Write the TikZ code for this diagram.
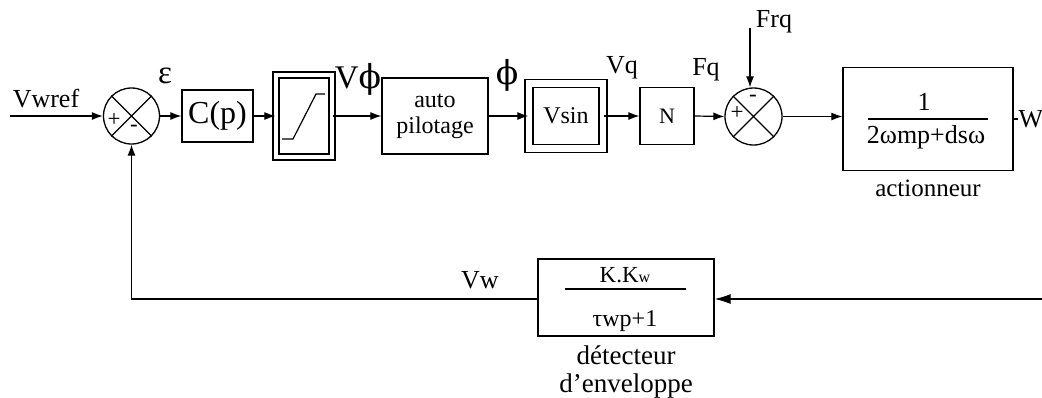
\documentclass[tikz,border=0pt]{standalone}
\usepackage{fontspec}
\setmainfont{Liberation Serif}
\newfontfamily\grk{DejaVu Serif}
\usetikzlibrary{arrows.meta,positioning,calc}

\begin{document}
\begin{tikzpicture}[
  x=1pt, y=-1pt,
  line width=1.2pt,
  box/.style    = {draw, line width=1.3pt, inner sep=0pt, align=center,
                   font=\fontsize{24}{26}\selectfont},
  dbox/.style   = {box, double, double distance=4.5pt},
  sum/.style    = {draw, circle, line width=1.3pt, minimum size=56pt,
                   inner sep=0pt},
  lbl/.style    = {inner sep=0pt, align=center,
                   font=\fontsize{26}{28}\selectfont},
  big/.style    = {inner sep=0pt, font=\fontsize{33}{35}\selectfont},
  sign/.style   = {inner sep=0pt, font=\fontsize{23}{24}\selectfont},
  arrow/.style  = {-{Latex[length=11pt,width=8pt]}},
  bigarrow/.style = {-{Latex[length=16pt,width=10pt]}}
]
  \useasboundingbox (0,0) rectangle (1042,397);

  % Forward path
  \coordinate (in) at (10,116);
  \node[lbl] (vwref) at (46,99) {Vwref};
  \node[sum] (s1) at (131.5,116) {};
  \draw (s1.north west) -- (s1.south east) (s1.north east) -- (s1.south west);
  \node[sign] (s1p) at (114,120) {+};
  \node[sign] (s1m) at (134,128) {-};
  \node[big] (eps) at (165,76) {ε};

  \node[box, minimum width=71pt, minimum height=52pt,
        font=\fontsize{32}{34}\selectfont] (cp) at (217.5,116) {C(p)};
  \node[dbox, minimum width=56pt, minimum height=82pt] (sat) at (304,116) {};
  \draw ($(sat)+(-22,23)$) -- ++(11,0) -- ($(sat)+(12,-22)$) -- ++(9,0);
  \node[big] (vphi) at (358,79) {V{\grk ϕ}};

  \node[box, minimum width=106pt, minimum height=76pt] (auto) at (435,116) {auto\\pilotage};
  \node[big] (phi) at (507,75) {\grk ϕ};
  \node[dbox, minimum width=74pt, minimum height=65pt, double distance=6.5pt] (vsin) at (566,116) {Vsin};
  \node[lbl] (vq) at (622,68) {Vq};
  \node[box, minimum width=54pt, minimum height=57pt,
        font=\fontsize{22}{24}\selectfont] (n) at (667,116) {N};
  \node[lbl] (fq) at (706,70) {Fq};

  \node[sum, minimum size=57pt] (s2) at (753.5,116.5) {};
  \draw (s2.north west) -- (s2.south east) (s2.north east) -- (s2.south west);
  \node[sign] (s2m) at (753,98) {-};
  \node[sign] (s2p) at (737,113) {+};
  \coordinate (frqin) at (750,28);
  \node[lbl] (frq) at (774,22) {Frq};

  \node[box, minimum width=170pt, minimum height=103pt] (act) at (928,119) {};
  \node[lbl] (actnum) at (924,102) {1};
  \node[lbl] (actden) at (926,137) {2ωmp+dsω};
  \draw (868,119) -- (988,119);
  \node[lbl, below=8pt of act, font=\fontsize{25}{28}\selectfont] (actlbl) {actionneur};
  \node[lbl, anchor=west] (w) at (1018,119) {W};

  \draw[arrow] (in) -- (s1);
  \draw[arrow] (s1.east) -- (cp.west);
  \draw[arrow] (cp.east) -- (sat.west);
  \draw[arrow] (sat.east) -- (auto.west);
  \draw[arrow] (auto.east) -- (vsin.west);
  \draw[arrow] (vsin.east) -- (n.west);
  \draw[arrow] (n.east) -- (s2.west);
  \draw[arrow] (frqin) -- (s2.north -| frqin);
  \draw[arrow] (s2.east) -- (s2.east -| act.west);
  \draw (act.east) -- (w.west);

  % Feedback path
  \node[box, minimum width=176pt, minimum height=77pt] (det) at (626,297.5) {};
  \node[lbl, font=\fontsize{23}{24}\selectfont] (detnum) at (625,275) {K.K{\fontsize{16}{16}\selectfont w}};
  \node[lbl, font=\fontsize{24}{24}\selectfont] (detden) at (625,321) {τwp+1};
  \draw (565,289) -- (686,289);
  \node[lbl, below=8pt of det, font=\fontsize{27}{28}\selectfont] (detlbl) {détecteur\\d'enveloppe};
  \node[lbl] (vw) at (480,280) {Vw};

  \coordinate (fbin) at (1042,299);
  \draw[bigarrow] (fbin) -- (fbin -| det.east);
  \draw[arrow] (det.west |- fbin) -- (s1.south |- fbin) -- (s1.south);
\end{tikzpicture}
\end{document}
